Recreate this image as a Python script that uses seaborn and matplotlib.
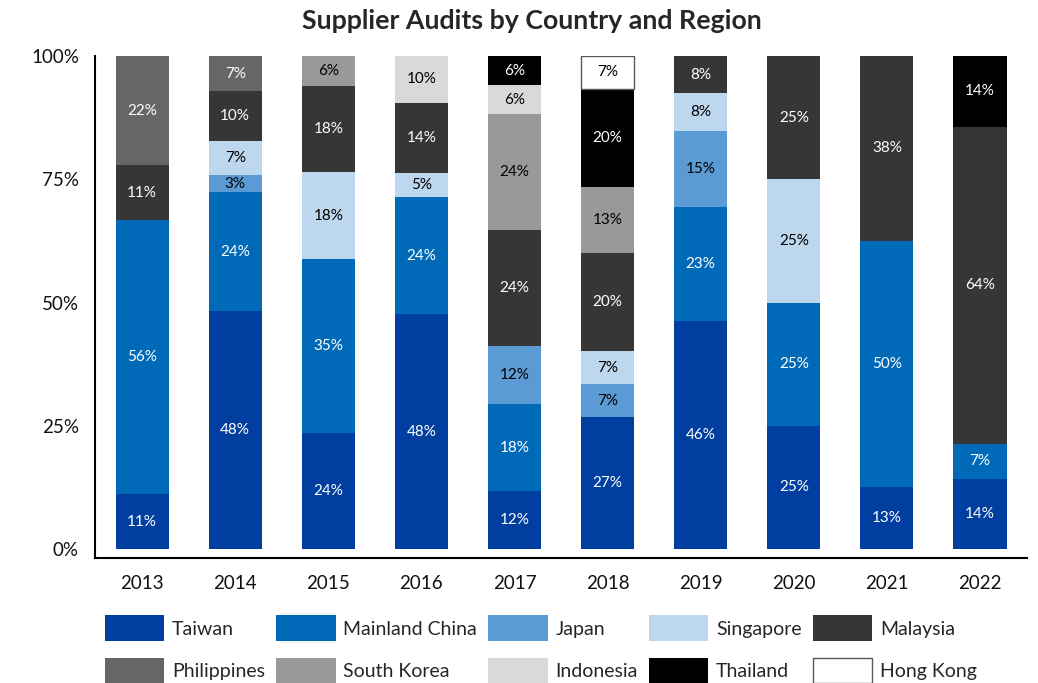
import matplotlib
matplotlib.use('Agg')
import matplotlib.pyplot as plt
from matplotlib.patches import Patch
import numpy as np
import pandas as pd
import seaborn as sns

years = ['2013', '2014', '2015', '2016', '2017', '2018', '2019', '2020', '2021', '2022']

# share of audits per year, in percent (bottom to top of each stack)
taiwan      = [11.1, 48.3, 23.5, 47.6, 11.8, 26.7, 46.2, 25.0, 12.5, 14.3]
mainland    = [55.6, 24.1, 35.3, 23.8, 17.6,  0.0, 23.1, 25.0, 50.0,  7.1]
japan       = [ 0.0,  3.4,  0.0,  0.0, 11.8,  6.7, 15.4,  0.0,  0.0,  0.0]
singapore   = [ 0.0,  6.9, 17.6,  4.8,  0.0,  6.7,  7.7, 25.0,  0.0,  0.0]
malaysia    = [11.1, 10.3, 17.6, 14.3, 23.5, 20.0,  7.7, 25.0, 37.5, 64.3]
philippines = [22.2,  6.9,  0.0,  0.0,  0.0,  0.0,  0.0,  0.0,  0.0,  0.0]
south_korea = [ 0.0,  0.0,  5.9,  0.0, 23.5, 13.3,  0.0,  0.0,  0.0,  0.0]
indonesia   = [ 0.0,  0.0,  0.0,  9.5,  5.9,  0.0,  0.0,  0.0,  0.0,  0.0]
thailand    = [ 0.0,  0.0,  0.0,  0.0,  5.9, 20.0,  0.0,  0.0,  0.0, 14.3]
hong_kong   = [ 0.0,  0.0,  0.0,  0.0,  0.0,  6.7,  0.0,  0.0,  0.0,  0.0]

countries = ['Taiwan', 'Mainland China', 'Japan', 'Singapore', 'Malaysia',
             'Philippines', 'South Korea', 'Indonesia', 'Thailand', 'Hong Kong']
series = [taiwan, mainland, japan, singapore, malaysia,
          philippines, south_korea, indonesia, thailand, hong_kong]
colors = ['#003FA0', '#006AB8', '#5B9BD5', '#BDD7EE', '#363636',
          '#666666', '#999999', '#D9D9D9', '#000000', '#FFFFFF']
text_colors = ['white', 'white', 'black', 'black', 'white',
               'white', 'black', 'black', 'white', 'black']

sns.set_style('white')
plt.rcParams['font.family'] = ['Lato', 'DejaVu Sans']

fig = plt.figure(figsize=(10.38, 6.83), dpi=100)
ax = fig.add_axes([0.092, 0.183, 0.897, 0.735])

bottom = np.zeros(len(years))
handles = []
for name, vals, color, tcolor in zip(countries, series, colors, text_colors):
    vals = np.array(vals, dtype=float)
    keep = vals > 0
    df = pd.DataFrame({'year': np.array(years)[keep], 'share': vals[keep]})
    edge = '#595959' if color == '#FFFFFF' else 'none'
    sns.barplot(data=df, x='year', y='share', order=years, color=color,
                saturation=1, width=0.57, errorbar=None, bottom=bottom[keep],
                edgecolor=edge, linewidth=1, ax=ax)
    labels = [f'{int(v + 0.5)}%' for v in vals[keep]]
    ax.bar_label(ax.containers[-1], labels=labels, label_type='center',
                 color=tcolor, fontsize=11)
    bottom += vals
    handles.append(Patch(facecolor=color, edgecolor=edge, linewidth=1, label=name))

ax.set_xlim(-0.5, 9.5)
ax.set_ylim(-1.8, 100)
ax.set_yticks([0, 25, 50, 75, 100])
ax.set_yticklabels(['0%', '25%', '50%', '75%', '100%'])
ax.set_xlabel('')
ax.set_ylabel('')
ax.tick_params(axis='both', length=0, labelsize=13.5, colors='#111111')
ax.tick_params(axis='x', pad=12)
ax.tick_params(axis='y', pad=12)
sns.despine(ax=ax)
for side in ['left', 'bottom']:
    ax.spines[side].set_color('black')
    ax.spines[side].set_linewidth(1.5)

fig.suptitle('Supplier Audits by Country and Region', x=0.512, y=0.987,
             fontsize=19.3, fontweight='bold')

# legend is filled column by column, so interleave the two rows
order = [0, 5, 1, 6, 2, 7, 3, 8, 4, 9]
fig.legend([handles[i] for i in order], [countries[i] for i in order],
           ncol=5, loc='upper left', bbox_to_anchor=(0.101, 0.099),
           frameon=False, fontsize=14, handlelength=3.05, handleheight=1.65,
           handletextpad=0.4, columnspacing=0.58, labelspacing=0.85,
           borderpad=0, borderaxespad=0)

fig.savefig('out.png', dpi=100)
